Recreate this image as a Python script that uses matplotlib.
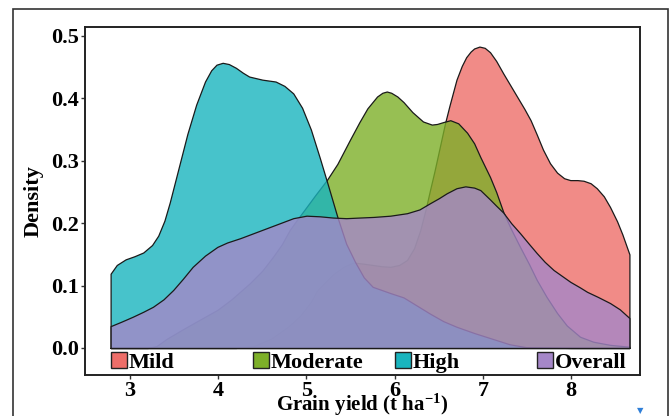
import matplotlib
matplotlib.use("Agg")
import matplotlib.pyplot as plt
from matplotlib.patches import Rectangle

plt.rcParams['font.family'] = ['Liberation Serif', 'DejaVu Sans']
plt.rcParams['font.weight'] = 'bold'
plt.rcParams['mathtext.fontset'] = 'custom'
plt.rcParams['mathtext.rm'] = 'Liberation Serif:bold'
plt.rcParams['mathtext.bf'] = 'Liberation Serif:bold'
plt.rcParams['mathtext.default'] = 'rm'

# density curves
mild_x = [2.78, 4.2, 4.4, 4.6, 4.8, 4.93, 5.05, 5.12, 5.2, 5.3, 5.42, 5.53, 5.65, 5.75,
          5.85, 5.95, 6.05, 6.14, 6.22, 6.29, 6.35, 6.40, 6.45, 6.5, 6.57, 6.62, 6.70,
          6.76, 6.81, 6.86, 6.9, 6.96, 7.02, 7.08, 7.15, 7.23, 7.31, 7.39, 7.47, 7.54,
          7.61, 7.68, 7.76, 7.84, 7.92, 7.99, 8.07, 8.14, 8.22, 8.29, 8.37, 8.44, 8.52,
          8.58, 8.66]
mild_y = [0.0, 0.0, 0.003, 0.015, 0.035, 0.052, 0.074, 0.092, 0.104, 0.118, 0.130, 0.137,
          0.135, 0.133, 0.131, 0.130, 0.133, 0.141, 0.160, 0.189, 0.222, 0.253, 0.283,
          0.315, 0.360, 0.388, 0.430, 0.452, 0.466, 0.475, 0.480, 0.483, 0.481, 0.474,
          0.460, 0.440, 0.421, 0.402, 0.383, 0.365, 0.342, 0.318, 0.296, 0.281, 0.272,
          0.269, 0.269, 0.268, 0.264, 0.256, 0.243, 0.226, 0.203, 0.182, 0.150]

moderate_x = [2.78, 3.2, 3.3, 3.42, 3.6, 3.8, 3.99, 4.15, 4.36, 4.5, 4.62, 4.72, 4.81,
              4.89, 4.98, 5.1, 5.23, 5.35, 5.49, 5.6, 5.69, 5.8, 5.86, 5.91, 5.96, 6.03,
              6.1, 6.2, 6.32, 6.42, 6.48, 6.55, 6.63, 6.72, 6.82, 6.9, 6.97, 7.08, 7.15,
              7.23, 7.32, 7.42, 7.52, 7.61, 7.72, 7.84, 7.95, 8.1, 8.25, 8.44, 8.66]
moderate_y = [0.0, 0.0, 0.003, 0.015, 0.030, 0.046, 0.061, 0.078, 0.104, 0.124, 0.146,
              0.166, 0.189, 0.205, 0.222, 0.245, 0.269, 0.295, 0.333, 0.362, 0.384,
              0.403, 0.409, 0.411, 0.409, 0.403, 0.394, 0.378, 0.363, 0.358, 0.359,
              0.362, 0.365, 0.360, 0.345, 0.328, 0.306, 0.274, 0.250, 0.218, 0.190,
              0.162, 0.135, 0.109, 0.082, 0.056, 0.036, 0.018, 0.010, 0.005, 0.002]

high_x = [2.78, 2.85, 2.95, 3.05, 3.15, 3.25, 3.32, 3.39, 3.45, 3.55, 3.65, 3.75, 3.85,
          3.92, 3.98, 4.05, 4.12, 4.2, 4.28, 4.35, 4.5, 4.65, 4.75, 4.85, 4.95, 5.05,
          5.15, 5.25, 5.35, 5.45, 5.55, 5.65, 5.75, 5.85, 5.95, 6.1, 6.25, 6.4, 6.55,
          6.7, 6.9, 7.1, 7.3, 7.5, 8.0, 8.66]
high_y = [0.119, 0.133, 0.142, 0.147, 0.153, 0.165, 0.180, 0.204, 0.233, 0.288, 0.343,
          0.390, 0.427, 0.445, 0.454, 0.457, 0.455, 0.449, 0.441, 0.435, 0.430, 0.427,
          0.420, 0.408, 0.385, 0.350, 0.305, 0.258, 0.210, 0.167, 0.138, 0.113, 0.098,
          0.093, 0.088, 0.081, 0.068, 0.055, 0.043, 0.034, 0.024, 0.015, 0.006, 0.001,
          0.0, 0.0]

overall_x = [2.78, 2.9, 3.03, 3.15, 3.26, 3.38, 3.49, 3.6, 3.71, 3.85, 3.99, 4.1, 4.25,
             4.4, 4.55, 4.7, 4.85, 5.0, 5.15, 5.3, 5.45, 5.6, 5.76, 5.95, 6.14, 6.28,
             6.4, 6.5, 6.59, 6.7, 6.8, 6.9, 6.97, 7.08, 7.15, 7.23, 7.32, 7.42, 7.52,
             7.61, 7.7, 7.8, 7.9, 7.99, 8.1, 8.18, 8.3, 8.44, 8.55, 8.66]
overall_y = [0.035, 0.042, 0.050, 0.058, 0.066, 0.078, 0.093, 0.111, 0.130, 0.148, 0.162,
             0.169, 0.176, 0.184, 0.192, 0.200, 0.208, 0.212, 0.211, 0.209, 0.208, 0.209,
             0.210, 0.212, 0.216, 0.222, 0.232, 0.240, 0.248, 0.256, 0.259, 0.257, 0.253,
             0.238, 0.228, 0.217, 0.200, 0.184, 0.167, 0.152, 0.138, 0.125, 0.115, 0.106,
             0.097, 0.090, 0.082, 0.072, 0.062, 0.048]

names = ["Mild", "Moderate", "High", "Overall"]
colors = ["#EE6E69", "#7DAF28", "#19B4BE", "#A587C8"]
series = [(mild_x, mild_y), (moderate_x, moderate_y), (high_x, high_y), (overall_x, overall_y)]

fig = plt.figure(figsize=(6.72, 4.16), dpi=100)
ax = fig.add_axes([0.1265, 0.0986, 0.8259, 0.8365])

for (xs, ys), col in zip(series, colors):
    ax.fill_between(xs, 0, ys, facecolor=matplotlib.colors.to_rgba(col, 0.8),
                    edgecolor="#1a1a1a", linewidth=0.9)

ax.set_xlim(2.49, 8.78)
ax.set_ylim(-0.0433, 0.5144)
ax.set_xticks([3, 4, 5, 6, 7, 8])
ax.set_yticks([0.0, 0.1, 0.2, 0.3, 0.4, 0.5])
ax.set_yticklabels(["0.0", "0.1", "0.2", "0.3", "0.4", "0.5"])
ax.tick_params(direction="out", length=3, width=1, labelsize=16, pad=1.5, color="#333333")
for s in ax.spines.values():
    s.set_linewidth(1.4)
    s.set_color("#222222")

ax.set_xlabel("Grain yield (t ha$^{-1}$)", fontsize=15, fontweight="bold", va="center")
ax.xaxis.set_label_coords(0.5, -0.086)
ax.set_ylabel("Density", fontsize=16, fontweight="bold")
ax.yaxis.set_label_coords(-0.075, 0.5)

# legend drawn along the bottom of the panel
for i, (name, col) in enumerate(zip(names, colors)):
    x0 = 0.0468 + i * 0.2559
    ax.add_patch(Rectangle((x0, 0.021), 0.0288, 0.046, transform=ax.transAxes,
                           facecolor=col, edgecolor="#222222", linewidth=1))
    ax.text(x0 + 0.032, 0.021, name, transform=ax.transAxes, fontsize=16,
            fontweight="bold", va="baseline", ha="left")

# outer frame
fig.patches.append(Rectangle((13 / 672, -0.05), 655 / 672, 1.05 - 9 / 416,
                             transform=fig.transFigure, fill=False,
                             edgecolor="#333333", linewidth=1.2))
fig.text(640 / 672, 1 - 411 / 416, "\u25BC", fontsize=6, color="#2f7fd8",
         family="DejaVu Sans", ha="center", va="center")

fig.savefig("out.png", dpi=100)
